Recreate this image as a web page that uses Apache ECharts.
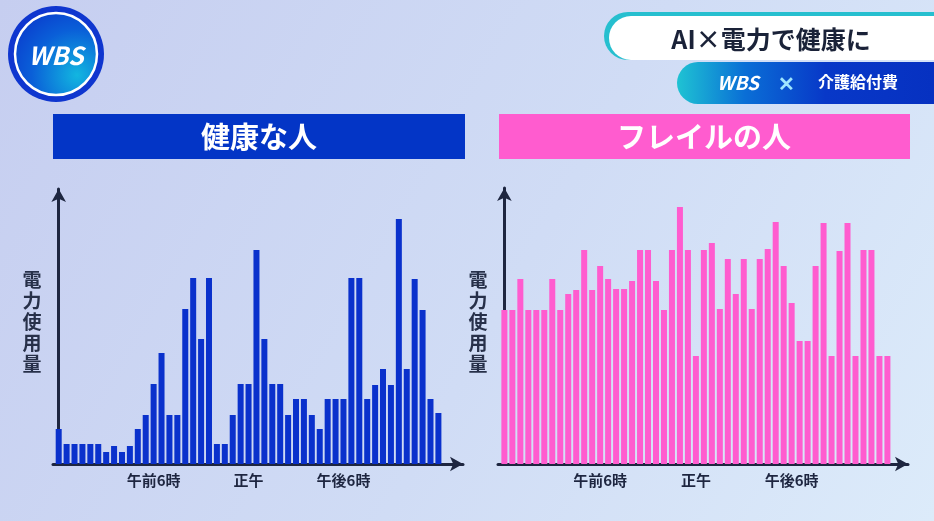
<!DOCTYPE html>
<html>
<head>
<meta charset="utf-8">
<script src="https://cdn.jsdelivr.net/npm/echarts@6/dist/echarts.min.js"></script>
<style>
html,body{margin:0;padding:0;width:934px;height:521px;overflow:hidden;}
#c{width:934px;height:521px;}
</style>
</head>
<body>
<div id="c"></div>
<script>
// 30-minute slots from 0:00 to 24:00 (49 bars)
const healthyValues = [35,20,20,20,20,20,12,18,12,18,35,49,80,111,49,49,155,186,125,186,20,20,49,80,80,214,125,80,80,49,65,65,49,35,65,65,65,186,186,65,79,95,79,245,95,185,154,65,51];
const frailValues   = [154,154,185,154,154,154,185,154,170,174,214,174,198,185,175,175,183,214,214,183,154,214,257,214,108,214,221,155,205,170,205,155,205,215,242,198,161,123,123,198,241,108,213,241,108,214,214,108,108];
const tickPositions = [12, 24, 36];
const tickLabels = ['午前6時', '正午', '午後6時'];
const panelTitles = ['健康な人', 'フレイルの人'];
const yAxisTitle = '電力使用量';
const headerTitle = 'AI×電力で健康に';
const subTitle = '介護給付費';

const FONT = '"Noto Sans CJK JP", "Noto Sans", sans-serif';
const AXIS_COLOR = '#1e2640';
const BLUE = '#0a31cc';
const PINK = '#ff5ccf';

function toPairs(arr){ return arr.map((v,i)=>[i,v]); }

function xAxisCfg(idx, min, max){
  return {
    type:'value', gridIndex: idx, min: min, max: max,
    splitLine:{show:false},
    axisTick:{show:false},
    axisLine:{show:true, onZero:false, symbol:['none','arrow'], symbolSize:[11,13],
      lineStyle:{color:AXIS_COLOR, width:3}},
    axisLabel:{
      customValues: tickPositions,
      formatter: v => { const k = tickPositions.indexOf(Math.round(v)); return k>=0 ? tickLabels[k] : ''; },
      color:AXIS_COLOR, fontSize:15, fontWeight:'bold', fontFamily:FONT, margin:9
    }
  };
}
function yAxisCfg(idx, max){
  return {
    type:'value', gridIndex: idx, min:0, max:max,
    splitLine:{show:false}, axisTick:{show:false}, axisLabel:{show:false},
    axisLine:{show:true, symbol:['none','arrow'], symbolSize:[11,13],
      lineStyle:{color:AXIS_COLOR, width:3}}
  };
}

const chart = echarts.init(document.getElementById('c'));
const option = {
  animation:false,
  backgroundColor:{
    type:'linear', x:0, y:0, x2:1, y2:1,
    colorStops:[{offset:0,color:'#c6cef0'},{offset:0.55,color:'#d0dcf5'},{offset:1,color:'#dcebfa'}]
  },
  grid:[
    {left:53, top:189, width:410, height:275},
    {left:498, top:188, width:410, height:276}
  ],
  xAxis:[ xAxisCfg(0, -0.72, 51.11), xAxisCfg(1, -0.8, 50.58) ],
  yAxis:[ yAxisCfg(0, 275), yAxisCfg(1, 276) ],
  series:[
    {type:'bar', xAxisIndex:0, yAxisIndex:0, data: toPairs(healthyValues), barWidth:6,
     itemStyle:{color:BLUE}},
    {type:'bar', xAxisIndex:1, yAxisIndex:1, data: toPairs(frailValues), barWidth:6,
     itemStyle:{color:PINK}}
  ],
  graphic:[
    // panel title boxes
    {type:'rect', shape:{x:53, y:114, width:412, height:45}, style:{fill:'#0335c6'}},
    {type:'text', x:259, y:137, style:{text:panelTitles[0], fill:'#fff', font:'bold 29px '+FONT, textAlign:'center', textVerticalAlign:'middle'}},
    {type:'rect', shape:{x:499, y:114, width:411, height:45}, style:{fill:PINK}},
    {type:'text', x:704, y:137, style:{text:panelTitles[1], fill:'#fff', font:'bold 29px '+FONT, textAlign:'center', textVerticalAlign:'middle'}},
    // y axis titles (vertical)
    {type:'text', x:32, y:322, style:{text:yAxisTitle.split('').join('\n'), fill:'#273049', font:'bold 19px '+FONT, lineHeight:21, textAlign:'center', textVerticalAlign:'middle'}},
    {type:'text', x:478, y:322, style:{text:yAxisTitle.split('').join('\n'), fill:'#273049', font:'bold 19px '+FONT, lineHeight:21, textAlign:'center', textVerticalAlign:'middle'}},
    // header white box
    {type:'rect', shape:{x:604, y:12, width:340, height:48, r:[24,0,0,24]}, style:{fill:'#26bfcf'}},
    {type:'rect', shape:{x:609, y:16, width:335, height:44, r:[22,0,0,22]}, style:{fill:'#ffffff'}},
    {type:'text', x:771, y:39, style:{text:headerTitle, fill:'#1a2238', font:'bold 25px '+FONT, textAlign:'center', textVerticalAlign:'middle'}},
    // blue pill
    {type:'rect', shape:{x:677, y:62, width:270, height:42, r:[21,0,0,21]},
     style:{fill:{type:'linear',x:0,y:0,x2:1,y2:0,colorStops:[{offset:0,color:'#1fc3d3'},{offset:0.25,color:'#0a6fd6'},{offset:0.55,color:'#0838c8'},{offset:1,color:'#0630c0'}]}}},
    {type:'text', x:738, y:83, style:{text:'WBS', fill:'#fff', font:'italic bold 19px '+FONT, textAlign:'center', textVerticalAlign:'middle'}},
    {type:'text', x:786, y:83, style:{text:'✕', fill:'#9fe6ff', font:'bold 20px '+FONT, textAlign:'center', textVerticalAlign:'middle'}},
    {type:'text', x:858, y:82, style:{text:subTitle, fill:'#fff', font:'bold 16px '+FONT, textAlign:'center', textVerticalAlign:'middle'}},
    // WBS logo
    {type:'circle', shape:{cx:56, cy:54, r:48}, style:{fill:'#0f36cf'}},
    {type:'circle', shape:{cx:56, cy:54, r:41},
     style:{fill:{type:'radial',x:0.75,y:0.75,r:0.9,colorStops:[{offset:0,color:'#12b6e0'},{offset:0.6,color:'#0a5fd8'},{offset:1,color:'#0a3ccd'}]}, stroke:'#ffffff', lineWidth:2.5}},
    {type:'text', x:56, y:55, style:{text:'WBS', fill:'#fff', font:'italic bold 25px '+FONT, textAlign:'center', textVerticalAlign:'middle'}}
  ]
};
chart.setOption(option);
</script>
</body>
</html>
